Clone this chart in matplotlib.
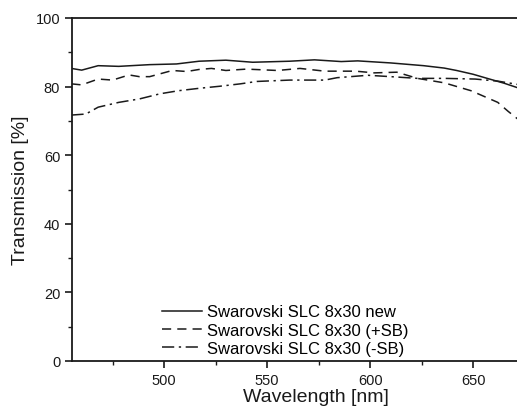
import matplotlib.pyplot as plt
import numpy as np

plt.rcParams['font.family'] = ['Liberation Sans', 'DejaVu Sans']

# Swarovski SLC 8x30 new (solid)
wl_new = [455, 460, 468, 478, 493, 506, 517, 530, 543, 561, 573, 586, 594,
          610, 626, 636, 642, 650, 658, 665, 672]
tr_new = [85.3, 84.8, 86.1, 85.9, 86.4, 86.6, 87.4, 87.7, 87.1, 87.4, 87.8,
          87.3, 87.5, 86.9, 86.1, 85.4, 84.7, 83.6, 82.2, 81.0, 79.6]

# Swarovski SLC 8x30 (+SB) (dashed)
wl_psb = [455, 460, 468, 475, 483, 488, 493, 504, 511, 517, 523, 530, 540,
          555, 566, 578, 593, 602, 613, 623, 636, 649, 662, 667, 672]
tr_psb = [80.8, 80.5, 82.2, 81.9, 83.4, 82.9, 82.9, 84.7, 84.4, 85.0, 85.3,
          84.7, 85.1, 84.7, 85.3, 84.5, 84.5, 84.0, 84.2, 82.4, 81.1, 78.8,
          75.4, 72.8, 70.4]

# Swarovski SLC 8x30 (-SB) (dash-dot)
wl_msb = [455, 462, 468, 478, 488, 498, 507, 517, 527, 537, 545, 561, 578,
          584, 599, 610, 623, 636, 651, 662, 672]
tr_msb = [71.7, 72.0, 74.0, 75.4, 76.4, 77.9, 78.8, 79.5, 80.1, 80.8, 81.5,
          81.9, 81.9, 82.6, 83.3, 82.9, 82.4, 82.4, 82.2, 81.6, 80.6]

labels = ['Swarovski SLC 8x30 new', 'Swarovski SLC 8x30 (+SB)',
          'Swarovski SLC 8x30 (-SB)']

fig = plt.figure(figsize=(5.17, 4.14), dpi=100)
ax = fig.add_axes([72 / 517, 52 / 414, 447 / 517, 343 / 414])

c = '#1a1a1a'
ax.plot(wl_new, tr_new, color=c, lw=1.1, ls='-', label=labels[0])
ax.plot(wl_psb, tr_psb, color=c, lw=1.1, ls=(0, (6, 4)), label=labels[1])
ax.plot(wl_msb, tr_msb, color=c, lw=1.1, ls=(0, (8, 3, 1.5, 3)), label=labels[2])

ax.set_xlim(455.3, 672.3)
ax.set_ylim(0, 100)
ax.set_xticks([500, 550, 600, 650])
ax.set_xticks([475, 525, 575, 625], minor=True)
ax.set_yticks([0, 20, 40, 60, 80, 100])
ax.set_yticks(np.arange(10, 100, 20), minor=True)
ax.tick_params(which='major', direction='out', length=5, width=1.2,
               labelsize=10.5, colors=c)
ax.tick_params(which='minor', direction='out', length=3, width=1.0, colors=c)
for s in ax.spines.values():
    s.set_linewidth(1.3)
    s.set_color(c)
ax.spines['right'].set_visible(False)

# the original axis ran past the cropped right edge, so the title sits right of centre
ax.set_xlabel('Wavelength [nm]', fontsize=14, color=c)
ax.xaxis.set_label_coords((316 - 72) / 447, -27 / 343, transform=ax.transAxes)
ax.set_ylabel('Transmission [%]', fontsize=14, color=c)
ax.yaxis.set_label_coords(-43 / 447, 0.5, transform=ax.transAxes)

ax.legend(loc='lower left', bbox_to_anchor=(0.18, -0.015), frameon=False,
          fontsize=12, handlelength=2.4, handletextpad=0.3, labelspacing=0.2,
          borderaxespad=0.2)

fig.savefig('out.png', dpi=100)
